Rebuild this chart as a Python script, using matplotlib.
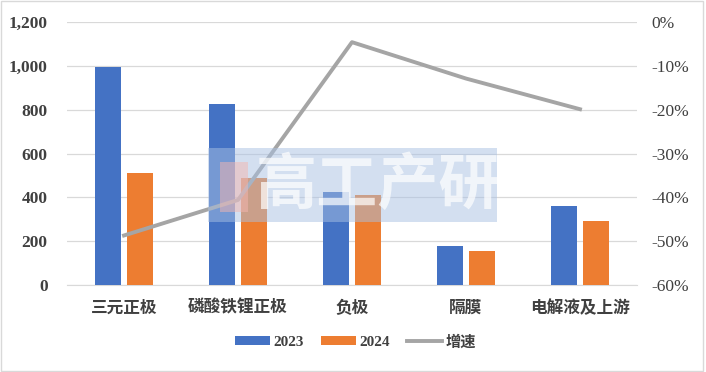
import matplotlib.pyplot as plt
import numpy as np
from matplotlib.patches import Rectangle
from matplotlib.ticker import FuncFormatter

categories = ['三元正极', '磷酸铁锂正极', '负极', '隔膜', '电解液及上游']
v2023 = [995, 825, 424, 179, 362]
v2024 = [510, 490, 409, 156, 290]
growth = [-48.7, -40.6, -4.6, -12.9, -19.9]
series_names = ['2023', '2024', '增速']

plt.rcParams['font.family'] = ['Liberation Serif', 'Noto Sans CJK SC', 'DejaVu Sans']

fig = plt.figure(figsize=(7.06, 3.72), dpi=100)
ax = fig.add_axes([67/706, 1-285/372, 570/706, 263/372])
ax2 = ax.twinx()

x = np.arange(len(categories))
w = 0.228
off = 0.14
b1 = ax.bar(x - off, v2023, w, color='#4472c4', label=series_names[0], zorder=3)
b2 = ax.bar(x + off, v2024, w, color='#ed7d31', label=series_names[1], zorder=3)
ln, = ax2.plot(x, growth, color='#a5a5a5', lw=2.8, label=series_names[2], zorder=4)

ax.set_xlim(-0.5, 4.5)
ax.set_ylim(0, 1200)
ax.set_yticks(np.arange(0, 1201, 200))
ax.yaxis.set_major_formatter(FuncFormatter(lambda v, p: f'{int(v):,}'))
ax2.set_ylim(-60, 0)
ax2.set_yticks(np.arange(-60, 1, 10))
ax2.yaxis.set_major_formatter(FuncFormatter(lambda v, p: f'{int(v)}%'))

ax.grid(axis='y', color='#d9d9d9', lw=0.9, zorder=0)
ax.set_axisbelow(True)
for a in (ax, ax2):
    for s in a.spines.values():
        s.set_visible(False)
    a.tick_params(length=0)
ax.spines['bottom'].set_visible(True)
ax.spines['bottom'].set_color('#d9d9d9')

ax.set_xticks(x)
ax.set_xticklabels(categories, fontsize=12, fontweight='bold', color='#404040',
                   family=['Noto Sans CJK SC', 'DejaVu Sans'])
ax.tick_params(axis='x', pad=10)
for lbl in ax.get_yticklabels():
    lbl.set_fontsize(12.5); lbl.set_fontweight('bold'); lbl.set_color('#404040')
ax.tick_params(axis='y', pad=14)
for lbl in ax2.get_yticklabels():
    lbl.set_fontsize(12.5); lbl.set_color('#404040')
ax2.tick_params(axis='y', pad=10)

leg = fig.legend(handles=[b1, b2, ln], labels=series_names, loc='center',
                 bbox_to_anchor=(355.5/706, 1-342/372), ncol=3, frameon=False,
                 handlelength=2.3, handleheight=0.55, columnspacing=1.1, handletextpad=0.25,
                 prop={'family': ['Liberation Serif', 'Noto Sans CJK SC'], 'weight': 'bold', 'size': 11})
for t in leg.get_texts():
    t.set_color('#404040')

# watermark
fig.patches.append(Rectangle((208/706, 1-222/372), 289/706, 74/372, transform=fig.transFigure,
                             facecolor='#a9c1e3', alpha=0.5, edgecolor='none', zorder=10))
fig.patches.append(Rectangle((220/706, 1-212/372), 28/706, 50/372, transform=fig.transFigure,
                             facecolor='#f4b6b0', alpha=0.5, edgecolor='none', zorder=11))
fig.text(378/706, 1-186/372, '高工产研', transform=fig.transFigure, ha='center', va='center',
         fontsize=44, fontweight='bold', color='white', alpha=0.7, zorder=12,
         family=['Noto Sans CJK SC'])

# outer border
fig.patches.append(Rectangle((0.002, 0.003), 0.994, 0.993, transform=fig.transFigure,
                             facecolor='none', edgecolor='#d9d9d9', lw=1, zorder=0))

fig.savefig('out.png', dpi=100)
